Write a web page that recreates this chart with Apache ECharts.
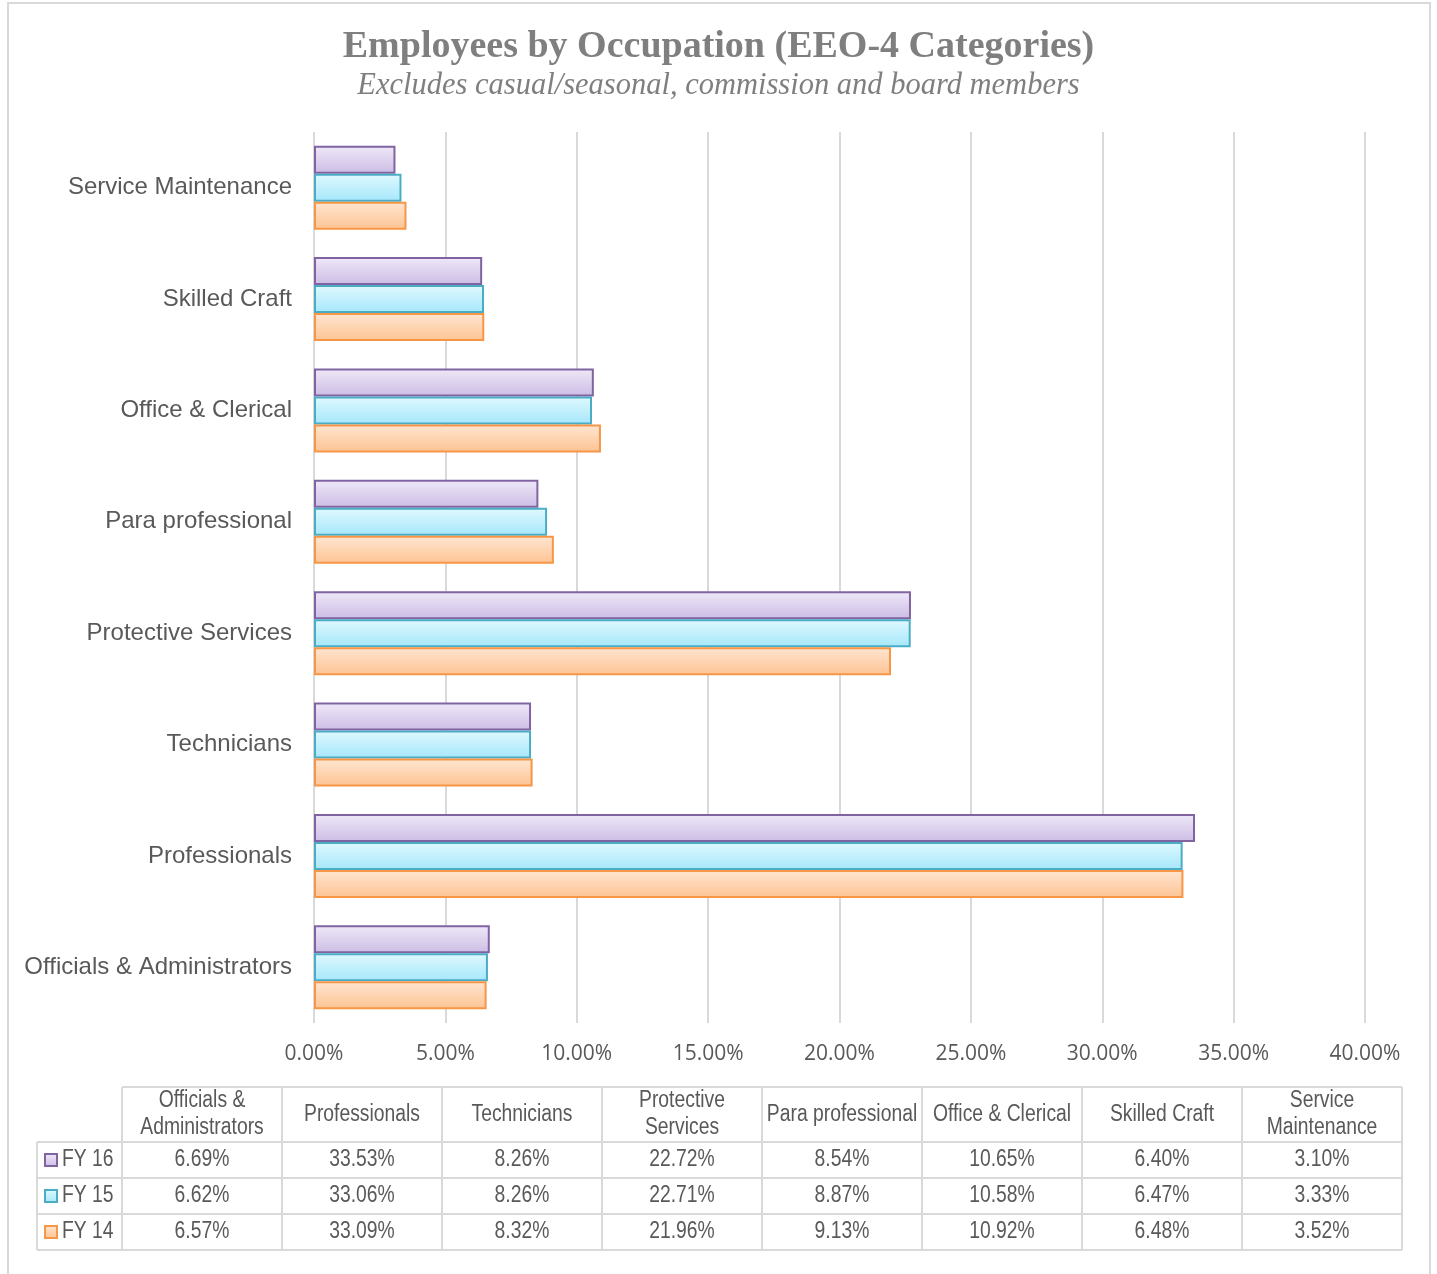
<!DOCTYPE html>
<html>
<head>
<meta charset="utf-8">
<script src="https://cdn.jsdelivr.net/npm/echarts@6/dist/echarts.min.js"></script>
<style>
html,body{margin:0;padding:0;background:#fff;}
#chart{width:1437px;height:1274px;}
</style>
</head>
<body>
<div id="chart"></div>
<script>
// ---- data ----
const categories = ['Officials & Administrators','Professionals','Technicians','Protective Services','Para professional','Office & Clerical','Skilled Craft','Service Maintenance'];
const tableHeaders = ['Officials &\nAdministrators','Professionals','Technicians','Protective\nServices','Para professional','Office & Clerical','Skilled Craft','Service\nMaintenance'];
const fy16 = [6.69, 33.53, 8.26, 22.72, 8.54, 10.65, 6.40, 3.10];
const fy15 = [6.62, 33.06, 8.26, 22.71, 8.87, 10.58, 6.47, 3.33];
const fy14 = [6.57, 33.09, 8.32, 21.96, 9.13, 10.92, 6.48, 3.52];
const xTicks = [0, 5, 10, 15, 20, 25, 30, 35, 40];

// ---- styles ----
const styles = {
  'FY 16': {top:'#EFE9F8', bottom:'#CCBCE5', border:'#8064A2'},
  'FY 15': {top:'#E0F9FE', bottom:'#A5E7FB', border:'#4BACC6'},
  'FY 14': {top:'#FFE6D2', bottom:'#FDC392', border:'#F79646'}
};
function grad(s){
  return new echarts.graphic.LinearGradient(0,0,0,1,[{offset:0,color:s.top},{offset:1,color:s.bottom}]);
}
const seriesDefs = [['FY 16', fy16], ['FY 15', fy15], ['FY 14', fy14]];
const series = seriesDefs.map(([name, data]) => ({
  name, type:'bar', data,
  barGap:'0%', barCategoryGap:'24.5%',
  itemStyle:{color:grad(styles[name]), borderColor:styles[name].border, borderWidth:2},
  emphasis:{disabled:true}
}));

// ---- table graphic ----
const gridLineColor = '#D9D9D9';
const textColor = '#595959';
const tableFont = '"Liberation Sans",Arial,sans-serif';
const narrow = 0.84;
const tX0 = 122, colW = 160, leftX = 37;
const rowY = [1087, 1142, 1178, 1214, 1250];
const tRight = tX0 + colW * categories.length;
const graphics = [];
// outer chart border
graphics.push({type:'rect', shape:{x:8, y:3, width:1422, height:1290}, style:{fill:'none', stroke:'#D9D9D9', lineWidth:2}, silent:true});
// horizontal lines
graphics.push({type:'line', shape:{x1:tX0, y1:rowY[0], x2:tRight, y2:rowY[0]}, style:{stroke:gridLineColor, lineWidth:2}});
for (let r = 1; r < rowY.length; r++) {
  graphics.push({type:'line', shape:{x1:leftX, y1:rowY[r], x2:tRight, y2:rowY[r]}, style:{stroke:gridLineColor, lineWidth:2}});
}
// vertical lines
graphics.push({type:'line', shape:{x1:leftX, y1:rowY[1], x2:leftX, y2:rowY[4]}, style:{stroke:gridLineColor, lineWidth:2}});
for (let c = 0; c <= categories.length; c++) {
  const x = tX0 + c * colW;
  graphics.push({type:'line', shape:{x1:x, y1:rowY[0], x2:x, y2:rowY[4]}, style:{stroke:gridLineColor, lineWidth:2}});
}
// headers
tableHeaders.forEach((h, i) => {
  graphics.push({type:'text', x: tX0 + i*colW + colW/2, y:(rowY[0]+rowY[1])/2, scaleX:narrow,
    style:{text:h, fill:textColor, font:'23px '+tableFont, align:'center', verticalAlign:'middle', lineHeight:27}});
});
// rows
const tableRows = [['FY 16', fy16], ['FY 15', fy15], ['FY 14', fy14]];
tableRows.forEach(([name, data], r) => {
  const cy = (rowY[r+1] + rowY[r+2]) / 2;
  const s = styles[name];
  graphics.push({type:'rect', shape:{x:leftX+8, y:cy-6, width:12, height:12},
    style:{fill:grad(s), stroke:s.border, lineWidth:2}});
  graphics.push({type:'text', x:leftX+25, y:cy, scaleX:narrow, style:{text:name, fill:textColor, font:'23px '+tableFont, align:'left', verticalAlign:'middle'}});
  data.forEach((v, i) => {
    graphics.push({type:'text', x: tX0 + i*colW + colW/2, y:cy, scaleX:narrow,
      style:{text:v.toFixed(2)+'%', fill:textColor, font:'23px '+tableFont, align:'center', verticalAlign:'middle'}});
  });
});

const chart = echarts.init(document.getElementById('chart'), null, {renderer:'canvas'});
chart.setOption({
  animation:false,
  backgroundColor:'#fff',
  title:[
    {text:'Employees by Occupation (EEO-4 Categories)', left:'center', top:23,
     textStyle:{fontFamily:'"Liberation Serif","Times New Roman",serif', fontWeight:'bold', fontSize:38, color:'#7F7F7F'}},
    {text:'Excludes casual/seasonal, commission and board members', left:'center', top:66,
     textStyle:{fontFamily:'"Liberation Serif","Times New Roman",serif', fontStyle:'italic', fontWeight:'normal', fontSize:30.5, color:'#7F7F7F'}}
  ],
  grid:{left:314, top:132, width:1051, height:891, containLabel:false},
  xAxis:{
    type:'value', min:xTicks[0], max:xTicks[xTicks.length-1], interval:5,
    axisLine:{show:false}, axisTick:{show:false},
    splitLine:{show:true, lineStyle:{color:gridLineColor, width:2}},
    axisLabel:{margin:21, color:textColor, fontFamily:'"Open Sans",sans-serif', fontSize:21,
      formatter:v => v.toFixed(2)+'%'}
  },
  yAxis:{
    type:'category', data:categories,
    axisLine:{show:false}, axisTick:{show:false},
    axisLabel:{margin:22, color:textColor, fontFamily:'"Liberation Sans",Arial,sans-serif', fontSize:24}
  },
  series,
  graphic:graphics
});
</script>
</body>
</html>
